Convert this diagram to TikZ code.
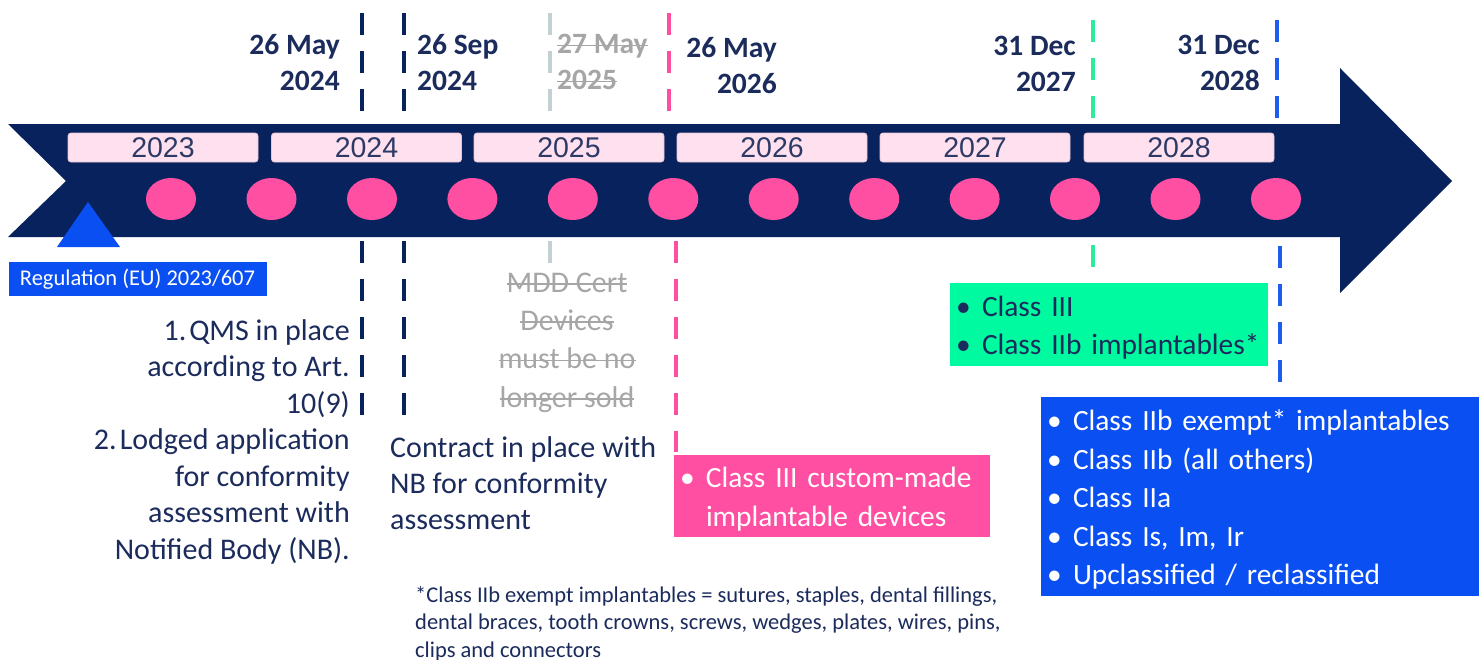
\documentclass[tikz,border=0pt]{standalone}
\usepackage{fontspec}
\setmainfont{Carlito}
\newfontfamily\arialfont{Liberation Sans}
\usepackage{tikz}
\usetikzlibrary{shapes}

\definecolor{arrownavy}{HTML}{08225E}
\definecolor{textnavy}{HTML}{1B2B5C}
\definecolor{yeartext}{HTML}{2E3A66}
\definecolor{yearpink}{HTML}{FFE0EF}
\definecolor{yearedge}{HTML}{E2C6D4}
\definecolor{dotpink}{HTML}{FF4FA2}
\definecolor{mintgreen}{HTML}{00FA9F}
\definecolor{greendash}{HTML}{2DEB9C}
\definecolor{regblue}{HTML}{0A4FF2}
\definecolor{bluedash}{HTML}{1E5BF0}
\definecolor{greytext}{HTML}{A6A6A6}
\definecolor{greydash}{HTML}{C5D0D5}

\newcommand{\datefont}{\fontsize{29.5}{36}\selectfont\bfseries}
\newcommand{\txtfont}{\fontsize{30}{36.5}\selectfont}
\newcommand{\boxfont}{\fontsize{29.4}{38.5}\selectfont}
\newcommand{\yearfont}{\arialfont\fontsize{28.5}{30}\selectfont}
\newcommand{\regfont}{\fontsize{22.5}{27}\selectfont}
\newcommand{\notefont}{\fontsize{22.5}{27.5}\selectfont}
\newcommand{\itembul}{\makebox[26pt][l]{\textbullet}}
\newcommand{\itemgap}{\makebox[26pt][l]{}}
\newcommand{\toppad}{\rule{0pt}{27pt}}
\newsavebox{\strikebox}
\newcommand{\strike}[1]{\sbox{\strikebox}{#1}\rlap{\rule[0.25em]{\wd\strikebox}{1.6pt}}\usebox{\strikebox}}

\begin{document}
\begin{tikzpicture}[x=1pt,y=-1pt]
	\tikzstyle{every node}=[inner sep=0pt]
	\tikzstyle{datedash}=[line width = 4.5000, dash pattern=on 22pt off 16pt]
	\tikzstyle{yearbox}=[rounded corners=3pt, fill=yearpink, draw=yearedge, line width = 0.8000, minimum width=190pt, minimum height=29pt, text=yeartext, font=\yearfont]
	\tikzstyle{dot}=[ellipse, fill=dotpink, minimum width=50pt, minimum height=42pt]
	\tikzstyle{classbox}=[align=left, inner xsep=6pt, minimum height=82pt, font=\boxfont]
	
	%% page frame
	\useasboundingbox [fill=white]  (0.0000,0.0000) rectangle (1483.0000,659.0000);
	
	\draw [datedash, arrownavy]  (362.0000,13.0000) -- (362.0000,118.0000);
	\draw [datedash, arrownavy]  (362.0000,241.0000) -- (362.0000,415.0000);
	\draw [datedash, arrownavy]  (404.0000,13.0000) -- (404.0000,118.0000);
	\draw [datedash, arrownavy]  (404.0000,241.0000) -- (404.0000,415.0000);
	\draw [datedash, greydash]  (550.0000,13.0000) -- (550.0000,118.0000);
	\draw [datedash, greydash]  (550.0000,241.0000) -- (550.0000,263.0000);
	\draw [datedash, dotpink]  (669.0000,13.0000) -- (669.0000,118.0000);
	\draw [datedash, dotpink]  (676.0000,241.0000) -- (676.0000,452.0000);
	\draw [datedash, greendash]  (1093.0000,20.0000) -- (1093.0000,118.0000);
	\draw [datedash, greendash]  (1093.0000,245.0000) -- (1093.0000,267.0000);
	\draw [datedash, bluedash]  (1277.0000,20.0000) -- (1277.0000,118.0000);
	\draw [datedash, bluedash]  (1280.0000,246.0000) -- (1280.0000,382.0000);
	
	\fill [arrownavy]  (8.0000,124.0000) -- (1340.0000,124.0000) -- (1340.0000,68.0000) -- (1452.0000,181.0000) -- (1340.0000,293.0000) -- (1340.0000,237.0000) -- (8.0000,237.0000) -- (66.0000,181.0000) -- cycle;
	
	\node [yearbox] (y2023) at (163.0000,147.5000)  {2023};
	\node [yearbox] (y2024) at (366.5000,147.5000)  {2024};
	\node [yearbox] (y2025) at (569.0000,147.5000)  {2025};
	\node [yearbox] (y2026) at (772.0000,147.5000)  {2026};
	\node [yearbox] (y2027) at (975.0000,147.5000)  {2027};
	\node [yearbox] (y2028) at (1179.0000,147.5000)  {2028};
	
	\node [dot] (d1) at (171.0000,199.0000)  {};
	\node [dot] (d2) at (271.5000,199.0000)  {};
	\node [dot] (d3) at (372.0000,199.0000)  {};
	\node [dot] (d4) at (472.4000,199.0000)  {};
	\node [dot] (d5) at (572.8000,199.0000)  {};
	\node [dot] (d6) at (673.3000,199.0000)  {};
	\node [dot] (d7) at (773.7000,199.0000)  {};
	\node [dot] (d8) at (874.2000,199.0000)  {};
	\node [dot] (d9) at (974.6000,199.0000)  {};
	\node [dot] (d10) at (1075.0000,199.0000)  {};
	\node [dot] (d11) at (1175.5000,199.0000)  {};
	\node [dot] (d12) at (1276.0000,199.0000)  {};
	
	\fill [regblue]  (57.0000,247.0000) -- (88.0000,202.0000) -- (120.0000,247.0000) -- cycle;
	\node [fill=regblue, text=white, minimum width=258pt, minimum height=34pt, font=\regfont] (reg) at (137.5000,279.0000)  {Regulation (EU) 2023/607};
	
	\node [anchor=north east, align=right, text=textnavy, font=\datefont] (may24) at (340.0000,34.0000)  {26 May\\2024};
	\node [anchor=north west, align=left, text=textnavy, font=\datefont] (sep24) at (417.0000,34.0000)  {26 Sep\\2024};
	\node [anchor=north west, align=left, text=greytext, font=\datefont] (may25) at (557.0000,34.0000)  {\strike{27 May}\\\strike{2025}};
	\node [anchor=north east, align=right, text=textnavy, font=\datefont] (may26) at (777.0000,37.0000)  {26 May\\2026};
	\node [anchor=north east, align=right, text=textnavy, font=\datefont] (dec27) at (1076.0000,36.0000)  {31 Dec\\2027};
	\node [anchor=north east, align=right, text=textnavy, font=\datefont] (dec28) at (1260.0000,35.0000)  {31 Dec\\2028};
	
	\node [anchor=north east, align=right, text=textnavy, font=\txtfont] (qms) at (350.0000,319.0000)  {1.\hspace{3pt}QMS in place\\according to Art.\\10(9)\\2.\hspace{3pt}Lodged application\\for conformity\\assessment with\\Notified Body (NB).};
	\node [anchor=north west, align=left, text=textnavy, font=\fontsize{30}{36}\selectfont] (contract) at (390.0000,436.0000)  {Contract in place with\\NB for conformity\\assessment};
	\node [anchor=north, align=center, text=greytext, font=\fontsize{30}{38.3}\selectfont] (mdd) at (567.0000,272.5000)  {\strike{MDD Cert}\\\strike{Devices}\\\strike{must be no}\\\strike{longer sold}};
	
	\node [classbox, fill=dotpink, text=white, text width=304pt] (custom) at (832.0000,496.0000)  {\toppad\itembul Class III custom-made\\\itemgap implantable devices};
	\node [classbox, fill=mintgreen, text=textnavy, text width=306pt, minimum height=83pt] (class3) at (1109.0000,324.5000)  {\toppad\itembul Class III\\\itembul Class IIb implantables*};
	\node [classbox, fill=regblue, text=white, text width=426pt, minimum height=199pt] (others) at (1260.0000,496.5000)  {\toppad\itembul Class IIb exempt* implantables\\\itembul Class IIb (all others)\\\itembul Class IIa\\\itembul Class Is, Im, Ir\\\itembul Upclassified / reclassified};
	
	\node [anchor=north west, align=left, text=textnavy, font=\notefont] (note) at (415.0000,586.0000)  {*Class IIb exempt implantables = sutures, staples, dental fillings,\\dental braces, tooth crowns, screws, wedges, plates, wires, pins,\\clips and connectors};

\end{tikzpicture}
\end{document}
